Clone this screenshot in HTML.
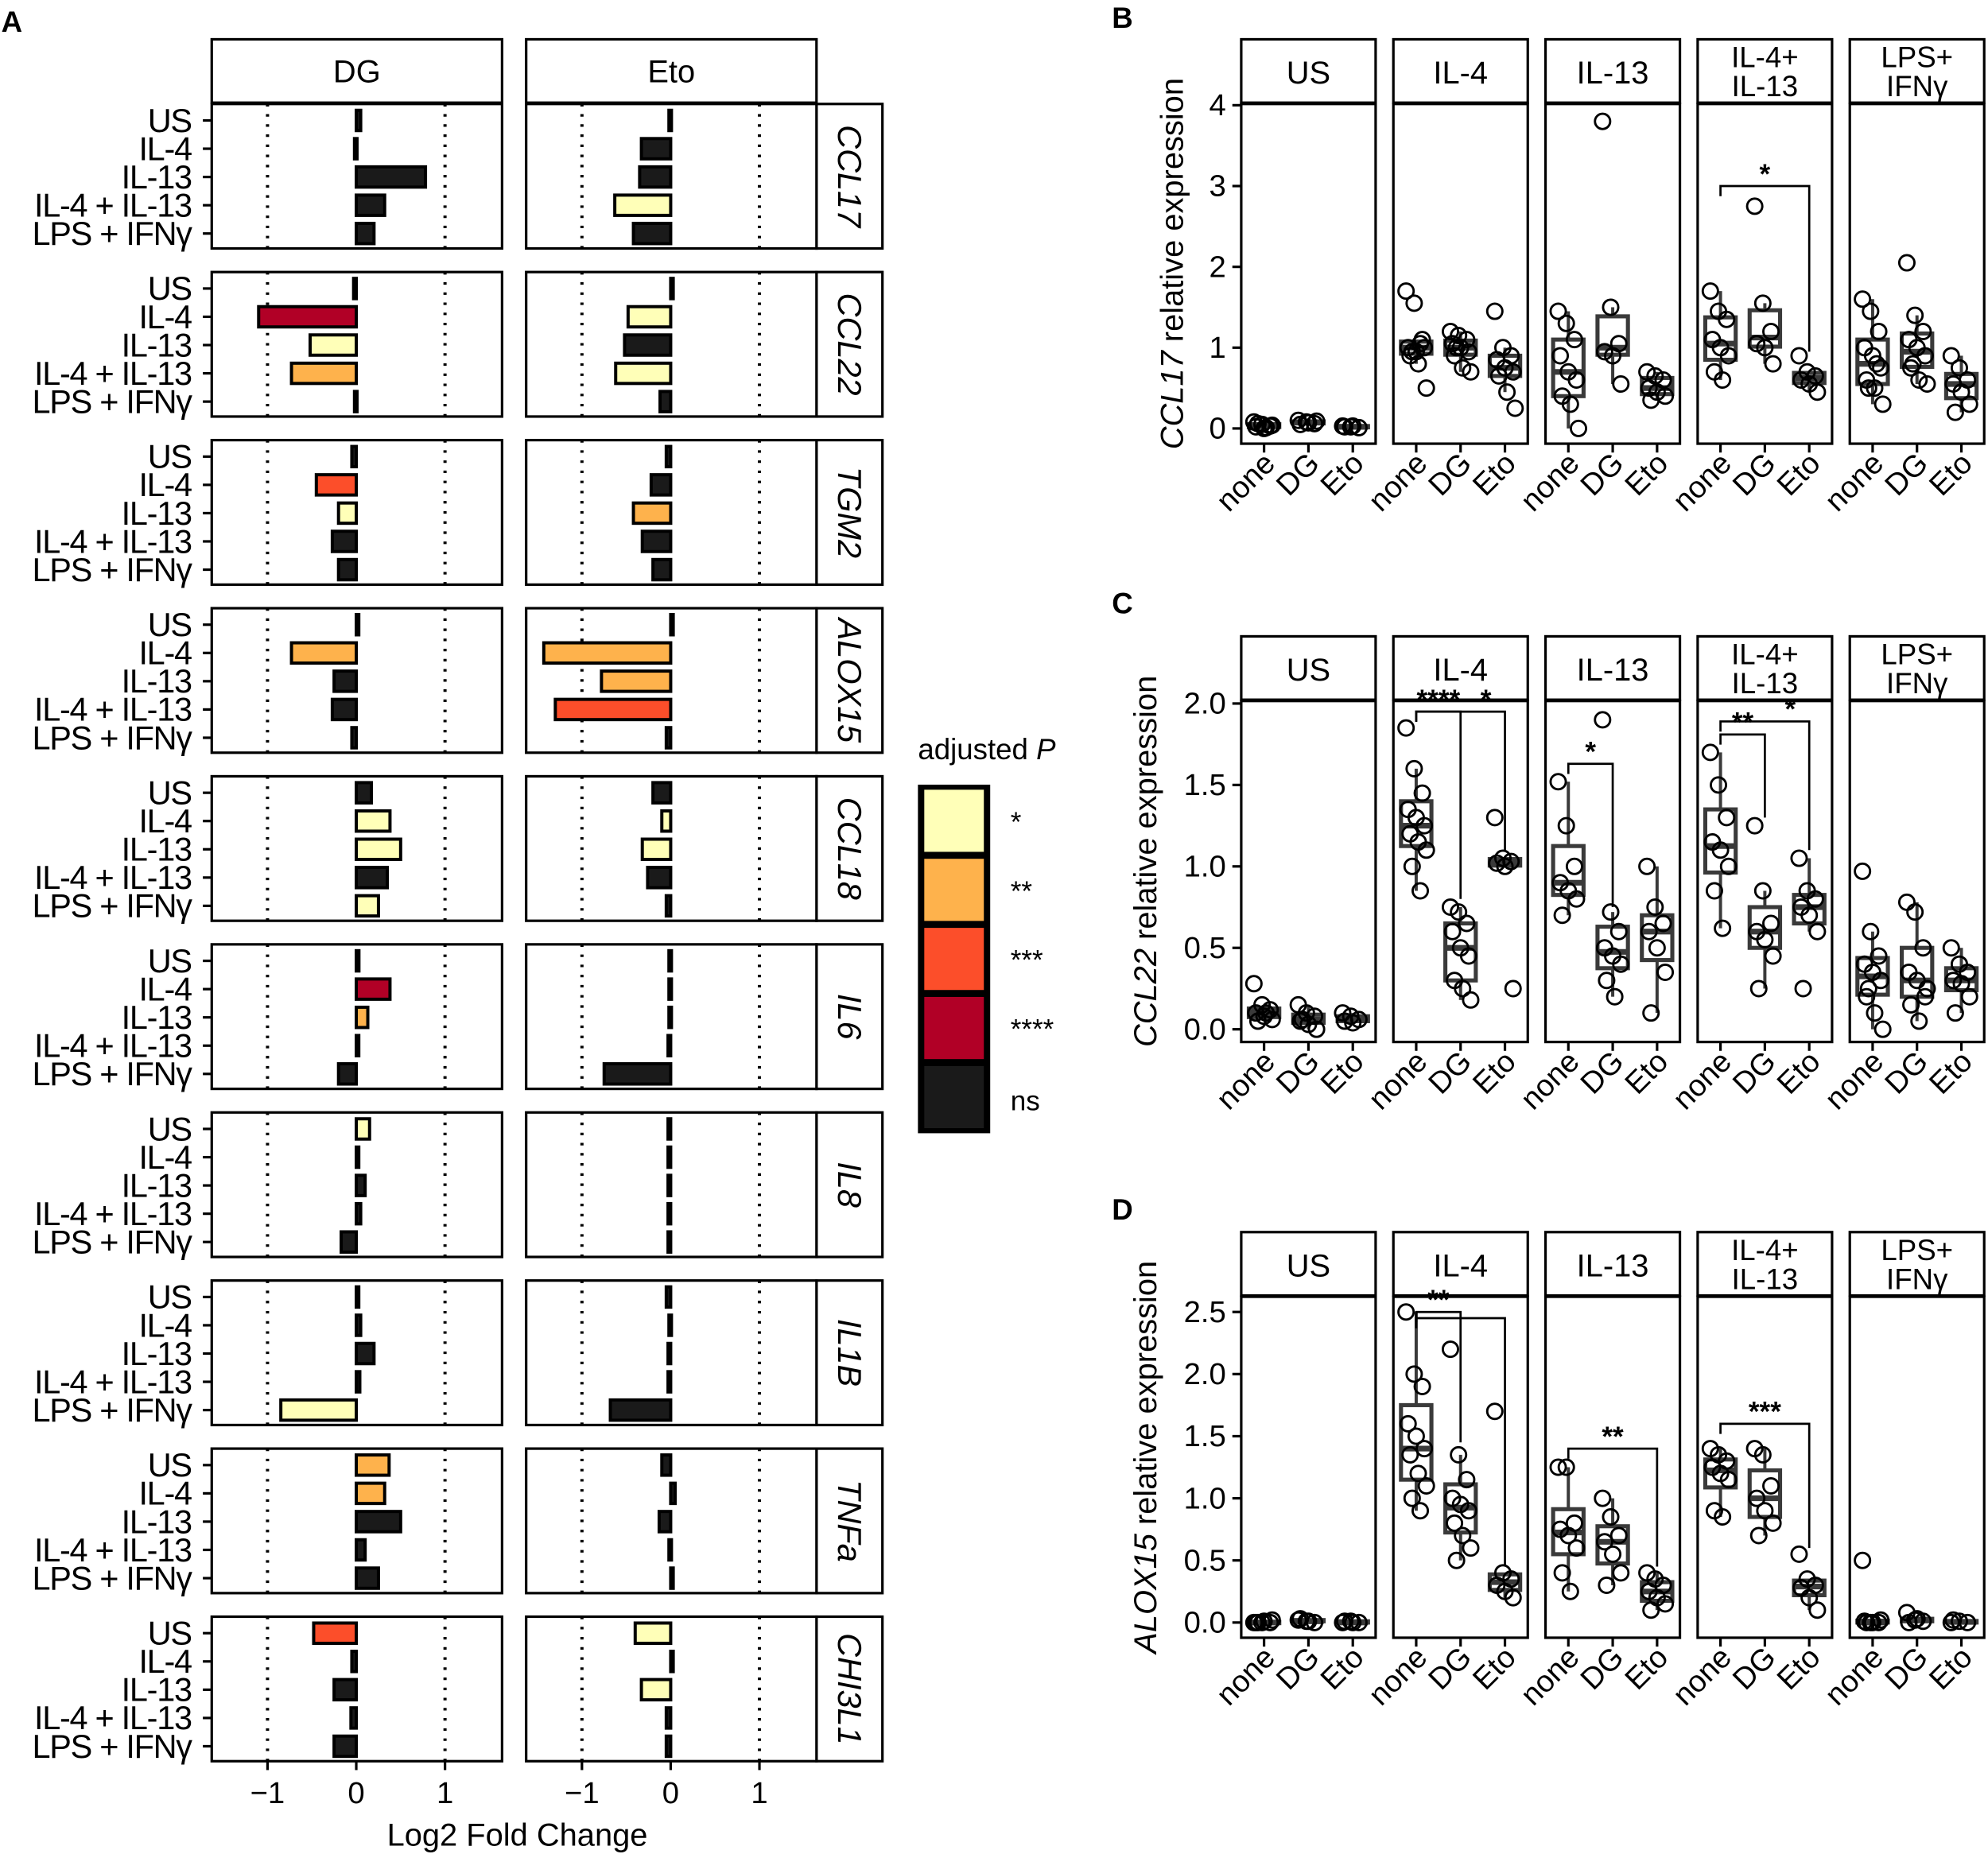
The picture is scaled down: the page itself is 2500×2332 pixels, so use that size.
<!DOCTYPE html>
<html><head><meta charset="utf-8"><style>
html,body{margin:0;padding:0;background:#fff}
svg{display:block;font-family:"Liberation Sans",Arial,sans-serif}
</style></head><body>
<svg id="fig" width="2500" height="2332" viewBox="0 0 1568 1462.6" xmlns="http://www.w3.org/2000/svg"></svg>
<script>
// ---------- Panel A data ----------
const genes=["CCL17","CCL22","TGM2","ALOX15","CCL18","IL6","IL8","IL1B","TNFa","CHI3L1"];
const conds=["US","IL-4","IL-13","IL-4 + IL-13","LPS + IFNγ"];
const dgVals=[[0.05,-0.02,0.78,0.32,0.2],[-0.03,-1.1,-0.52,-0.73,-0.02],[-0.05,-0.45,-0.2,-0.27,-0.2],[0.02,-0.73,-0.25,-0.27,-0.05],[0.17,0.38,0.5,0.35,0.25],[0.03,0.38,0.13,0.02,-0.2],[0.15,0.02,0.1,0.05,-0.17],[0.02,0.05,0.2,0.04,-0.85],[0.37,0.32,0.5,0.1,0.25],[-0.48,-0.05,-0.25,-0.06,-0.25]];
const dgSig=[[0,0,0,0,0],[0,4,1,2,0],[0,3,1,0,0],[0,2,0,0,0],[0,1,1,0,1],[0,4,2,0,0],[1,0,0,0,0],[0,0,0,0,1],[2,2,0,0,0],[3,0,0,0,0]];
const etoVals=[[-0.02,-0.33,-0.35,-0.63,-0.42],[0,-0.48,-0.52,-0.62,-0.12],[-0.05,-0.22,-0.42,-0.32,-0.2],[0,-1.43,-0.78,-1.3,-0.05],[-0.2,-0.1,-0.32,-0.26,-0.05],[-0.02,-0.02,-0.02,-0.03,-0.75],[-0.03,-0.03,-0.03,-0.03,-0.03],[-0.05,-0.02,-0.03,-0.03,-0.68],[-0.1,0.05,-0.13,-0.02,0.02],[-0.4,0,-0.33,-0.05,-0.05]];
const etoSig=[[0,0,0,1,0],[0,1,0,1,0],[0,0,2,0,0],[0,2,2,3,0],[0,1,1,0,0],[0,0,0,0,0],[0,0,0,0,0],[0,0,0,0,0],[0,0,0,0,0],[1,0,1,0,0]];
const sigColors=["#1a1a1a","#FFFFB8","#FEB24C","#FC4E2A","#B10026"];
const sigLabels=["ns","*","**","***","****"];
const xTicksA=[-1,0,1];

// ---------- Panels B-D data ----------
const facets=["US","IL-4","IL-13","IL-4+\nIL-13","LPS+\nIFNγ"];
const groups=["none","DG","Eto"];
const ccl17Pts=[
 [[0.08,0.05,0.03,0.02,0.0,0.04,0.06,0.01],[0.1,0.08,0.06,0.05,0.07,0.09],[0.03,0.02,0.01,0.02,0.03]],
 [[1.7,1.55,1.1,1.0,0.95,1.0,0.9,0.8,0.5,0.95,1.05],[1.2,1.15,1.1,1.05,1.0,0.95,0.9,0.75,0.7,1.0],[1.45,1.0,0.9,0.85,0.75,0.7,0.65,0.45,0.25]],
 [[1.45,1.3,1.1,0.9,0.7,0.6,0.4,0.3,0.0],[3.8,1.5,1.05,0.95,0.9,0.55],[0.7,0.65,0.6,0.5,0.45,0.4,0.35]],
 [[1.7,1.45,1.35,1.1,1.0,0.9,0.7,0.6],[2.75,1.55,1.2,1.05,1.0,0.8],[0.9,0.7,0.65,0.6,0.55,0.45]],
 [[1.6,1.45,1.2,1.0,0.9,0.75,0.6,0.5,0.3,0.5,0.8],[2.05,1.4,1.2,1.1,1.0,0.9,0.75,0.6,0.55,0.8],[0.9,0.75,0.6,0.55,0.45,0.3,0.2]]];
const ccl22Pts=[
 [[0.28,0.15,0.12,0.1,0.08,0.06,0.05,0.1],[0.15,0.1,0.08,0.05,0.03,0.0,0.06],[0.1,0.08,0.06,0.05,0.04]],
 [[1.85,1.6,1.45,1.35,1.3,1.25,1.2,1.15,1.1,1.0,0.85],[0.75,0.72,0.65,0.6,0.5,0.45,0.3,0.25,0.18],[1.3,1.05,1.03,1.02,1.0,0.25]],
 [[1.52,1.25,1.0,0.9,0.85,0.8,0.7],[1.9,0.72,0.6,0.5,0.45,0.4,0.3,0.2],[1.0,0.75,0.65,0.6,0.5,0.35,0.1]],
 [[1.7,1.5,1.3,1.15,1.1,1.0,0.85,0.62],[1.25,0.85,0.65,0.6,0.55,0.45,0.25],[1.05,0.85,0.8,0.75,0.7,0.6,0.25]],
 [[0.97,0.6,0.45,0.4,0.35,0.3,0.2,0.1,0.0,0.25],[0.78,0.72,0.5,0.35,0.3,0.2,0.15,0.05,0.25],[0.5,0.4,0.35,0.3,0.28,0.2,0.1]]];
const alox15Pts=[
 [[0,0,0,0,0.01,0.02,0],[0.02,0.01,0,0.03,0.01],[0,0.01,0,0.01,0]],
 [[2.5,2.0,1.9,1.6,1.5,1.4,1.35,1.2,1.1,1.0,0.9],[2.2,1.35,1.15,1.0,0.95,0.9,0.8,0.7,0.6,0.5],[1.7,0.4,0.35,0.3,0.25,0.2]],
 [[1.25,1.25,0.8,0.75,0.7,0.6,0.4,0.25],[1.0,0.85,0.7,0.65,0.55,0.4,0.3],[0.4,0.35,0.3,0.25,0.2,0.15,0.1]],
 [[1.4,1.35,1.3,1.25,1.2,1.15,0.9,0.85],[1.4,1.35,1.1,1.0,0.9,0.8,0.7],[0.55,0.35,0.3,0.28,0.2,0.1]],
 [[0.5,0,0,0.01,0,0.02,0],[0.08,0.02,0.01,0,0.03],[0,0.01,0,0.02]]];
// brackets: [facet, fromGroup, toGroup, y, tipEnd, label]
const ccl17Sig=[[3,0,2,3.0,0.95,"*"]];
const ccl22Sig=[[1,0,1,1.95,0.8,"****"],[1,0,2,1.95,1.1,"*"],[2,0,1,1.63,0.75,"*"],[3,0,1,1.81,1.3,"**"],[3,0,2,1.89,1.1,"*"]];
const alox15Sig=[[1,0,1,2.5,1.45,"**"],[1,0,2,2.45,0.45,""],[2,0,2,1.4,0.45,"**"],[3,0,2,1.6,0.6,"***"]];
const ccl17Ticks=[0,1,2,3,4];
const ccl22Ticks=[0,0.5,1,1.5,2];
const alox15Ticks=[0,0.5,1,1.5,2,2.5];

const NS="http://www.w3.org/2000/svg";
const svg=document.getElementById('fig');
function mk(tag,attrs,parent){const e=document.createElementNS(NS,tag);for(const k in attrs)e.setAttribute(k,attrs[k]);(parent||svg).appendChild(e);return e;}
function txt(s,attrs,parent){const e=mk('text',attrs,parent);e.textContent=s;return e;}

// ---------- Panel A ----------
const gA=mk('g',{});


let t=txt("A",{x:1,y:25,'font-size':23,'font-weight':'bold'});

const colX=[167,415], colW=229, rowTop0=82, rowStep=132.6, rowH=114;
const unit=70;
function xA(c,v){return colX[c]+114+v*unit;}
["DG","Eto"].forEach((n,c)=>{
  const r=mk('rect',{x:colX[c],y:31,width:colW,height:50,fill:'#fff',stroke:'#000','stroke-width':2},gA);
  
  const tt=txt(n,{x:colX[c]+colW/2,y:65,'font-size':25,'text-anchor':'middle'},gA);
  
});
genes.forEach((g,gi)=>{
  const top=rowTop0+gi*rowStep;
  const sr=mk('rect',{x:644,y:top,width:52,height:rowH,fill:'#fff',stroke:'#000','stroke-width':2},gA);
  
  const gt=txt(g,{x:0,y:0,'font-size':26,'font-style':'italic','text-anchor':'middle',transform:`translate(661,${top+rowH/2}) rotate(90)`},gA);
  
  conds.forEach((cn,ci)=>{
    const y=top+13+ci*22.3;
    const lt=txt(cn,{x:151,y:y+9,'font-size':26,'letter-spacing':'-0.8','text-anchor':'end'},gA);
    
    mk('line',{x1:160,x2:167,y1:y,y2:y,stroke:'#000','stroke-width':2},gA);
  });
  [dgVals,etoVals].forEach((vals,c)=>{
    const sigs=c==0?dgSig:etoSig;
    const pr=mk('rect',{x:colX[c],y:top,width:colW,height:rowH,fill:'#fff',stroke:'#000','stroke-width':2},gA);
    
    [-1,1].forEach(v=>mk('line',{x1:xA(c,v),x2:xA(c,v),y1:top,y2:top+rowH,stroke:'#000','stroke-width':2.5,'stroke-dasharray':'2,6'},gA));
    vals[gi].forEach((v,ci)=>{
      const y=top+13+ci*22.3;
      const x0=Math.min(xA(c,0),xA(c,v)), w=Math.max(Math.abs(xA(c,v)-xA(c,0)),2);
      const b=mk('rect',{x:x0,y:y-8,width:w,height:16,fill:sigColors[sigs[gi][ci]],stroke:'#000','stroke-width':2.5},gA);
      
      
    });
  });
});
const axisY=rowTop0+9*rowStep+rowH;
[0,1].forEach(c=>{
  xTicksA.forEach(v=>{
    mk('line',{x1:xA(c,v),x2:xA(c,v),y1:axisY,y2:axisY+7,stroke:'#000','stroke-width':2},gA);
    const tl=txt(v<0?'−'+Math.abs(v):String(v),{x:xA(c,v),y:axisY+33,'font-size':24,'text-anchor':'middle'},gA);
    
  });
});
t=txt("Log2 Fold Change",{x:408,y:1456,'font-size':25,'text-anchor':'middle'},gA);

// legend
const lg=mk('g',{});

t=txt("adjusted ",{x:724,y:599,'font-size':23},lg);
const ti=mk('tspan',{'font-style':'italic'},t);ti.textContent='P';

mk('rect',{x:724,y:619,width:57,height:275,fill:'#000'},lg);
[1,2,3,4,0].forEach((s,i)=>{
  const r=mk('rect',{x:729,y:623+i*54.5,width:47,height:49,fill:sigColors[s]},lg);
  
  const l=txt(sigLabels[s],{x:797,y:i==4?876:656+i*54.5,'font-size':22},lg);
  
});

// ---------- Panels B-D ----------
const facX=[979,1099,1219,1339,1459], facW=106, grpOff=[18,53,88];
function boxStats(a){const s=[...a].sort((x,y)=>x-y);const q=p=>{const h=(s.length-1)*p,l=Math.floor(h);return s[l]+(s[Math.min(l+1,s.length-1)]-s[l])*(h-l);};
 const q1=q(.25),q3=q(.75),m=q(.5),iqr=q3-q1;const inl=s.filter(v=>v>=q1-1.5*iqr&&v<=q3+1.5*iqr);return {q1,q3,m,lo:inl[0],hi:inl[inl.length-1]};}
function boxPanel(name,letter,letterY,headTop,plotBot,y0px,unitPx,ticks,ytitle,pts,sigs){
  const g=mk('g',{});
  
  const lt=txt(letter,{x:877,y:letterY,'font-size':23,'font-weight':'bold'},g);
  
  const plotTop=headTop+51;
  const yS=v=>y0px-v*unitPx;
  ticks.forEach(v=>{
    mk('line',{x1:972,x2:979,y1:yS(v),y2:yS(v),stroke:'#000','stroke-width':2},g);
    const tl=txt(ticks[ticks.length-1]>=4?String(v):v.toFixed(1),{x:967,y:yS(v)+8,'font-size':24,'text-anchor':'end'},g);
    
  });
  const yt=txt('',{x:0,y:0,'font-size':25,'text-anchor':'middle',transform:`translate(${ticks[ticks.length-1]>=4?933:912},${(plotTop+plotBot)/2-8}) rotate(-90)`},g);
  const ts=mk('tspan',{'font-style':'italic'},yt);ts.textContent=ytitle;
  const ts2=mk('tspan',{},yt);ts2.textContent=' relative expression';
  
  facets.forEach((f,fi)=>{
    const fx=facX[fi];
    const hr=mk('rect',{x:fx,y:headTop,width:facW,height:50,fill:'#fff',stroke:'#000','stroke-width':2},g);
    
    const lines=f.split('\n');
    lines.forEach((l,li)=>{
      const ft=txt(l,{x:fx+facW/2,y:lines.length==1?headTop+35:headTop+22+li*23,'font-size':lines.length==1?25:23,'text-anchor':'middle'},g);
      
    });
    const pr=mk('rect',{x:fx,y:plotTop,width:facW,height:plotBot-plotTop,fill:'#fff',stroke:'#000','stroke-width':2},g);
    
    groups.forEach((gr,gi)=>{
      const cx=fx+grpOff[gi];
      mk('line',{x1:cx,x2:cx,y1:plotBot,y2:plotBot+7,stroke:'#000','stroke-width':2},g);
      const xl=txt(gr,{x:0,y:0,'font-size':24,'text-anchor':'end',transform:`translate(${cx+10},${plotBot+17}) rotate(-45)`},g);
      
      const st=boxStats(pts[fi][gi]);
      mk('line',{x1:cx,x2:cx,y1:yS(st.hi),y2:yS(st.q3),stroke:'#3a3a3a','stroke-width':2.5},g);
      mk('line',{x1:cx,x2:cx,y1:yS(st.q1),y2:yS(st.lo),stroke:'#3a3a3a','stroke-width':2.5},g);
      const bx=mk('rect',{x:cx-12,y:yS(st.q3),width:24,height:Math.max(yS(st.q1)-yS(st.q3),1),fill:'#fff',stroke:'#3a3a3a','stroke-width':3.2},g);
      
      mk('line',{x1:cx-12,x2:cx+12,y1:yS(st.m),y2:yS(st.m),stroke:'#3a3a3a','stroke-width':4.5},g);
      pts[fi][gi].forEach((v,pi)=>{
        const jit=((pi*37)%11-5)*1.6;
        const c=mk('circle',{cx:cx+jit,cy:yS(v),r:6,fill:'none',stroke:'#000','stroke-width':1.8},g);
        
      });
    });
  });
  sigs.forEach(s=>{
    const [fi,a,b,yv,tip,lab]=s;
    const x1=facX[fi]+grpOff[a],x2=facX[fi]+grpOff[b];
    mk('path',{d:`M${x1},${yS(yv)+8} L${x1},${yS(yv)} L${x2},${yS(yv)} L${x2},${yS(tip)}`,fill:'none',stroke:'#000','stroke-width':1.7},g);
    if(lab){const st=txt(lab,{x:(x1+x2)/2-(b==2&&a==0&&sigs.some(o=>o[0]==fi&&o[2]==1)?-20:0),y:yS(yv)-2,'font-size':22,'text-anchor':'middle','font-weight':'bold'},g);
    }
  });
}
boxPanel('b','B',22,31,350,338,63.75,ccl17Ticks,'CCL17',ccl17Pts,ccl17Sig);
boxPanel('c','C',484,502,822,812,128.5,ccl22Ticks,'CCL22',ccl22Pts,ccl22Sig);
boxPanel('d','D',962,972,1292,1280,98,alox15Ticks,'ALOX15',alox15Pts,alox15Sig);
</script>
</body></html>
